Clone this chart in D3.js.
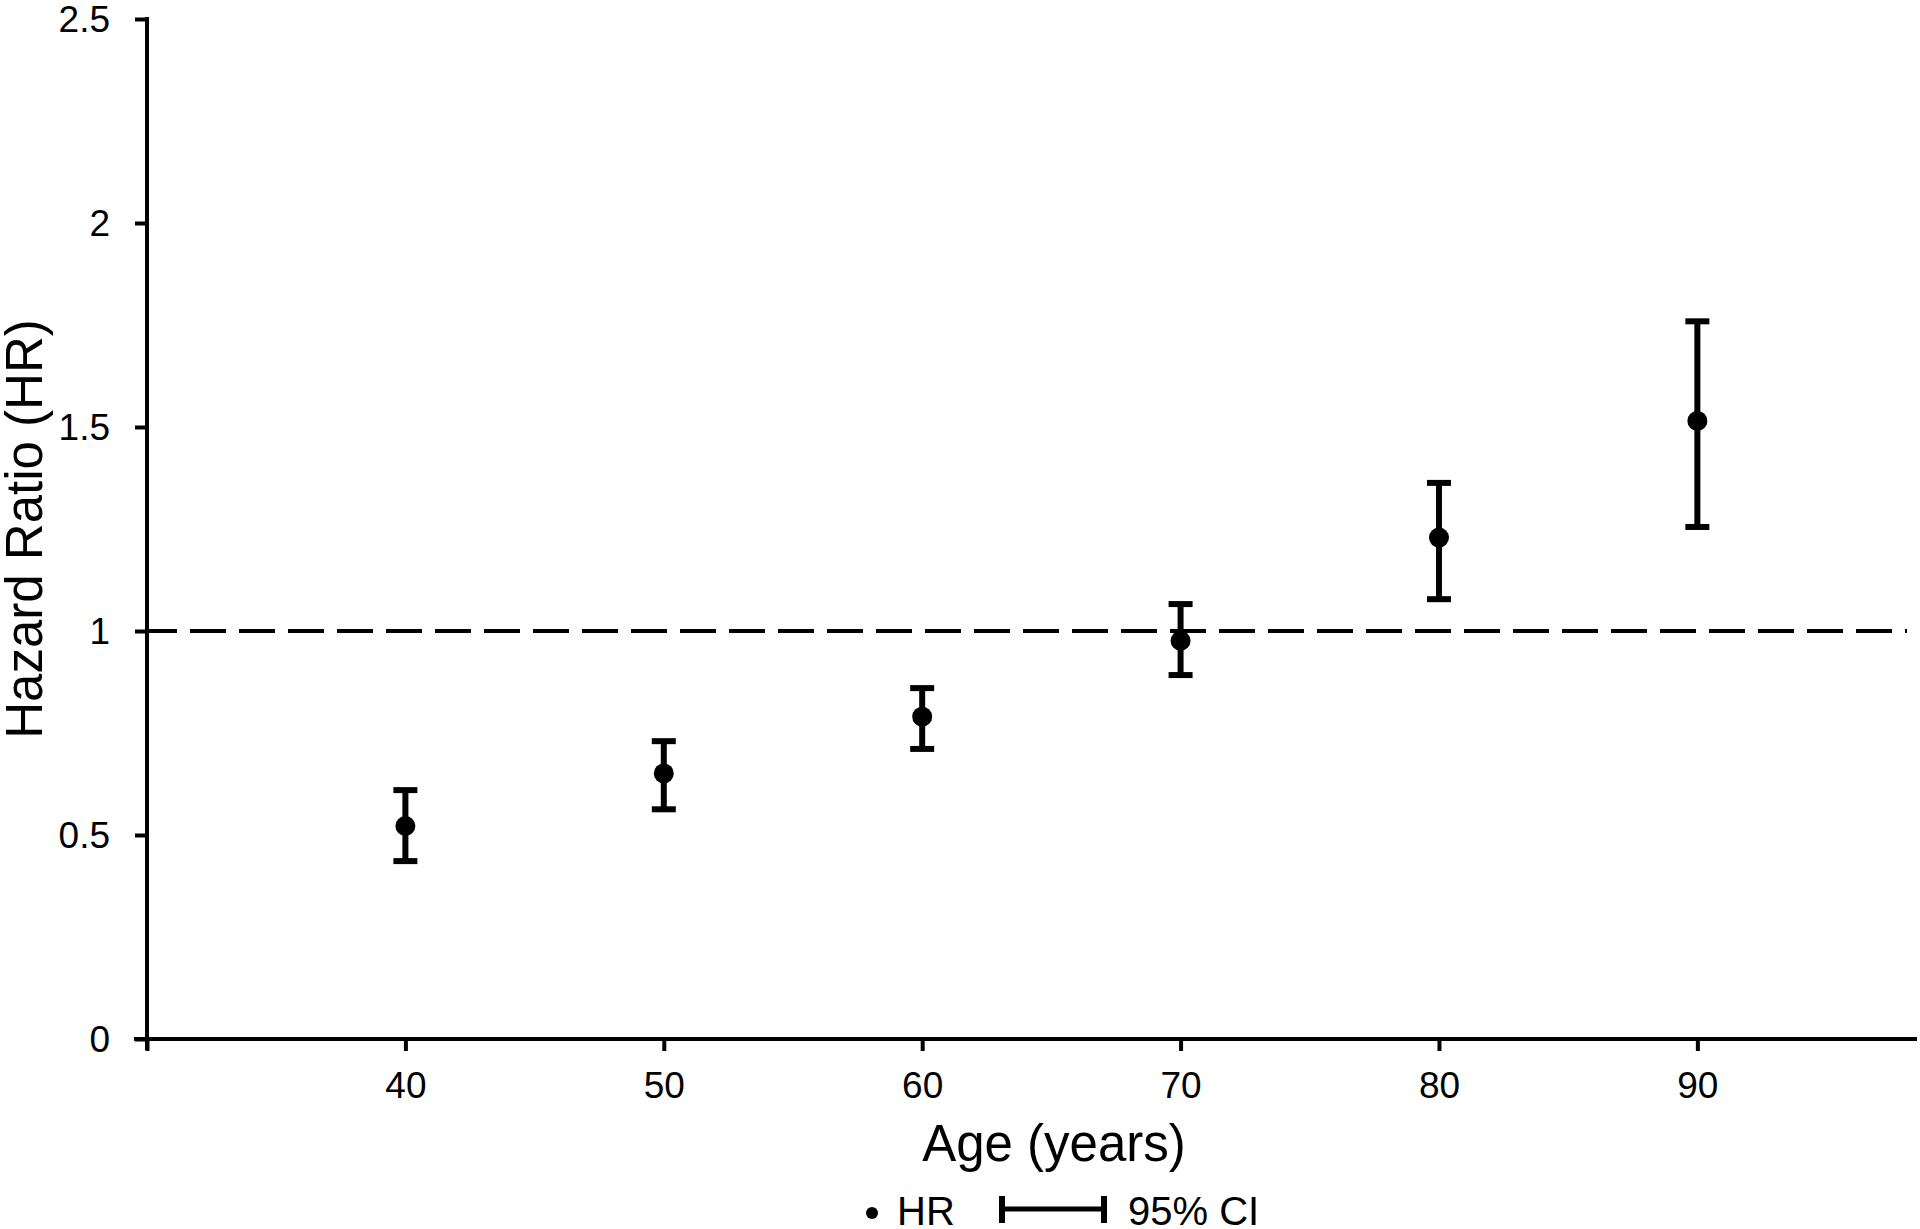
<!DOCTYPE html>
<html>
<head>
<meta charset="utf-8">
<script src="https://cdn.jsdelivr.net/npm/d3@7"></script>
<style>
  html, body { margin: 0; padding: 0; background: #fff; }
  svg { display: block; font-family: "Liberation Sans", Arial, sans-serif; }
</style>
</head>
<body>
<svg id="chart" width="1920" height="1229"></svg>
<script>
// ---- data ----
const ages = [40, 50, 60, 70, 80, 90];
const hr = [0.522, 0.651, 0.790, 0.976, 1.229, 1.515];
const ciLower = [0.436, 0.563, 0.711, 0.892, 1.078, 1.255];
const ciUpper = [0.610, 0.730, 0.860, 1.066, 1.363, 1.759];
const xTickValues = [30, 40, 50, 60, 70, 80, 90];
const xTickLabels = ["", "40", "50", "60", "70", "80", "90"];
const yTickValues = [0, 0.5, 1, 1.5, 2, 2.5];
const yTickLabels = ["0", "0.5", "1", "1.5", "2", "2.5"];
const referenceHR = 1;
const xTitle = "Age (years)";
const yTitle = "Hazard Ratio (HR)";
const legendLabels = ["HR", "95% CI"];

// ---- layout ----
const svg = d3.select("#chart");
const plotLeft = 147, plotRight = 1917, plotTop = 19, plotBottom = 1039;
const x = d3.scaleLinear().domain([30, 98.5]).range([plotLeft, plotRight]);
const y = d3.scaleLinear().domain([0, 2.5]).range([plotBottom, plotTop]);

// x axis
const xAxis = svg.append("g")
  .attr("transform", `translate(0,${plotBottom})`)
  .call(d3.axisBottom(x).tickValues(xTickValues)
    .tickFormat((d, i) => xTickLabels[i]).tickSize(12).tickSizeOuter(0));
xAxis.select(".domain").attr("stroke", "#000").attr("stroke-width", 4)
  .attr("d", `M${plotLeft - 13},0H${plotRight}`);
xAxis.selectAll(".tick line").attr("stroke", "#000").attr("stroke-width", 4);
xAxis.selectAll(".tick text").attr("fill", "#000").attr("font-size", 37)
  .attr("font-family", "Liberation Sans, Arial, sans-serif")
  .attr("y", 59).attr("dy", null);

// y axis
const yAxis = svg.append("g")
  .attr("transform", `translate(${plotLeft},0)`)
  .call(d3.axisLeft(y).tickValues(yTickValues)
    .tickFormat((d, i) => yTickLabels[i]).tickSize(12).tickSizeOuter(0).tickPadding(25));
yAxis.select(".domain").attr("stroke", "#000").attr("stroke-width", 4)
  .attr("d", `M0,${plotTop - 2}V${plotBottom + 11}`);
yAxis.selectAll(".tick line").attr("stroke", "#000").attr("stroke-width", 4);
yAxis.selectAll(".tick text").attr("fill", "#000").attr("font-size", 37)
  .attr("font-family", "Liberation Sans, Arial, sans-serif")
  .attr("dy", "0.35em");

// reference dashed line
svg.append("line")
  .attr("x1", plotLeft).attr("x2", 1907)
  .attr("y1", y(referenceHR)).attr("y2", y(referenceHR))
  .attr("stroke", "#000").attr("stroke-width", 4)
  .attr("stroke-dasharray", "36,13").attr("stroke-dashoffset", 6);

// error bars
const data = ages.map((a, i) => ({ age: a, hr: hr[i], lo: ciLower[i], hi: ciUpper[i] }));
const capW = 12;
const eb = svg.append("g").attr("stroke", "#000").attr("stroke-width", 6);
eb.selectAll(".v").data(data).join("line").attr("class", "v")
  .attr("x1", d => x(d.age)).attr("x2", d => x(d.age))
  .attr("y1", d => y(d.lo)).attr("y2", d => y(d.hi));
eb.selectAll(".ct").data(data).join("line").attr("class", "ct")
  .attr("x1", d => x(d.age) - capW).attr("x2", d => x(d.age) + capW)
  .attr("y1", d => y(d.hi)).attr("y2", d => y(d.hi));
eb.selectAll(".cb").data(data).join("line").attr("class", "cb")
  .attr("x1", d => x(d.age) - capW).attr("x2", d => x(d.age) + capW)
  .attr("y1", d => y(d.lo)).attr("y2", d => y(d.lo));

// points
svg.append("g").selectAll("circle").data(data).join("circle")
  .attr("cx", d => x(d.age)).attr("cy", d => y(d.hr)).attr("r", 10)
  .attr("fill", "#000");

// axis titles
svg.append("text")
  .attr("x", 1054).attr("y", 1161)
  .attr("text-anchor", "middle").attr("font-size", 51).attr("fill", "#000")
  .text(xTitle);
svg.append("text")
  .attr("transform", `translate(42,${(plotTop + plotBottom) / 2}) rotate(-90)`)
  .attr("text-anchor", "middle").attr("font-size", 51).attr("fill", "#000")
  .text(yTitle);

// legend
const lg = svg.append("g");
lg.append("circle").attr("cx", 872).attr("cy", 1213).attr("r", 6).attr("fill", "#000");
lg.append("text").attr("x", 897).attr("y", 1225).attr("font-size", 40).attr("fill", "#000")
  .text(legendLabels[0]);
lg.append("line").attr("x1", 1000).attr("x2", 1106).attr("y1", 1209).attr("y2", 1209)
  .attr("stroke", "#000").attr("stroke-width", 5);
lg.append("line").attr("x1", 1002).attr("x2", 1002).attr("y1", 1196).attr("y2", 1223)
  .attr("stroke", "#000").attr("stroke-width", 6);
lg.append("line").attr("x1", 1104).attr("x2", 1104).attr("y1", 1196).attr("y2", 1223)
  .attr("stroke", "#000").attr("stroke-width", 6);
lg.append("text").attr("x", 1128).attr("y", 1225).attr("font-size", 40).attr("fill", "#000")
  .text(legendLabels[1]);
</script>
</body>
</html>
